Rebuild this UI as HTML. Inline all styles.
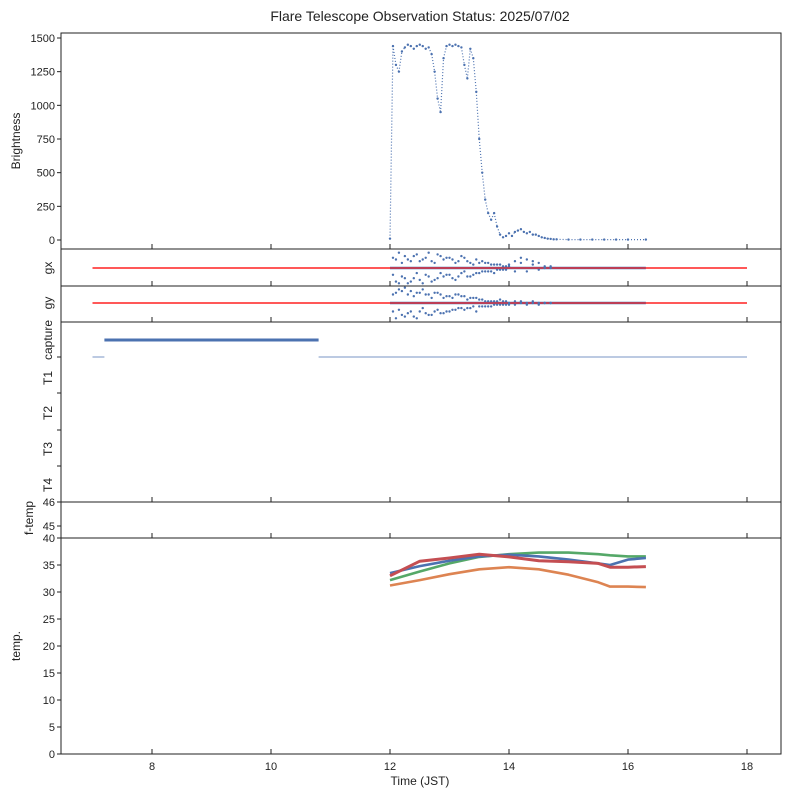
<!DOCTYPE html>
<html><head><meta charset="utf-8"><style>
body{margin:0;background:#fff;}
svg{display:block;font-family:"Liberation Sans",sans-serif;}
</style></head><body>
<svg id="c" width="789" height="798"></svg>
<script>
const bTimes=[12.00,12.05,12.10,12.15,12.20,12.25,12.30,12.35,12.40,12.45,12.50,12.55,12.60,12.65,12.70,12.75,12.80,12.85,12.90,12.95,13.00,13.05,13.10,13.15,13.20,13.25,13.30,13.35,13.40,13.45,13.50,13.55,13.60,13.65,13.70,13.75,13.80,13.85,13.90,13.95,14.00,14.05,14.10,14.15,14.20,14.25,14.30,14.35,14.40,14.45,14.50,14.55,14.60,14.65,14.70,14.75,14.80,15.0,15.2,15.4,15.6,15.8,16.0,16.3];
const bVals=[10,1440,1300,1250,1400,1430,1450,1440,1420,1440,1450,1440,1420,1430,1380,1250,1050,950,1350,1440,1450,1440,1450,1440,1430,1300,1200,1420,1350,1100,750,500,300,200,150,200,100,40,20,30,50,30,60,70,80,60,50,60,40,40,30,20,15,10,8,5,5,3,3,3,3,3,3,3];
const bTicks=[0,250,500,750,1000,1250,1500];
const gTimes=[12.05,12.1,12.15,12.2,12.25,12.3,12.35,12.4,12.45,12.5,12.55,12.6,12.65,12.7,12.75,12.8,12.85,12.9,12.95,13.0,13.05,13.1,13.15,13.2,13.25,13.3,13.35,13.4,13.45,13.5,13.55,13.6,13.65,13.7,13.75,13.8,13.85,13.9,13.95,14.0,14.1,14.2,14.3,14.4,14.5,14.6,14.7];
const gxA=[0.6,-0.8,0.9,-0.5,0.7,-0.9,0.4,-0.6,0.8,-0.7,0.5,-0.4,0.9,-0.8,0.3,-0.6,0.7,-0.5,0.6,-0.4,0.5,-0.7,0.4,-0.3,0.6,-0.5,0.3,-0.4,0.5,-0.3,0.4,-0.2,0.3,-0.2,0.2,-0.1,0.2,-0.1,0.1,0.1,0.4,0.6,0.5,0.4,0.3,0.1,0.1];
const gxB=[-0.4,0.5,-0.9,0.3,-0.6,0.5,-0.8,0.7,-0.3,0.4,-0.9,0.6,-0.5,0.4,-0.7,0.8,-0.3,0.5,-0.4,0.6,-0.6,0.3,-0.5,0.7,-0.2,0.4,-0.5,0.2,-0.3,0.3,-0.2,0.3,-0.2,0.2,-0.3,0.2,-0.1,0.1,-0.1,0.2,-0.2,0.3,-0.2,0.2,-0.1,0.0,0.0];
const gyA=[0.5,-0.9,0.8,-0.7,0.9,-0.6,0.7,-0.8,0.6,-0.5,0.8,-0.6,0.5,-0.7,0.6,-0.4,0.5,-0.6,0.4,-0.5,0.3,-0.4,0.5,-0.3,0.4,-0.3,0.3,-0.2,0.3,-0.2,0.2,-0.2,0.1,-0.2,0.1,-0.1,0.2,-0.1,0.1,0.0,0.1,0.1,0.0,0.1,-0.1,0.0,0.0];
const gyB=[-0.5,0.6,-0.4,0.7,-0.8,0.5,-0.5,0.4,-0.9,0.6,-0.3,0.5,-0.7,0.3,-0.5,0.6,-0.6,0.3,-0.5,0.4,-0.4,0.5,-0.3,0.4,-0.4,0.2,-0.3,0.3,-0.5,0.2,-0.2,0.1,-0.2,0.1,-0.1,0.1,-0.1,0.1,-0.1,-0.1,-0.1,0.0,-0.1,0.0,0.0,0.0,0.0];
const capOnStart=7.2, capOnEnd=10.8, capLineStart=7.0, capLineEnd=18.0;
const tTimes=[12.0,12.5,13.0,13.5,14.0,14.5,15.0,15.5,15.7,16.0,16.3];
const tBlue=[33.5,34.8,35.8,36.6,36.9,36.6,36.0,35.3,35.0,36.0,36.3];
const tOrange=[31.2,32.2,33.3,34.2,34.6,34.2,33.2,31.8,31.0,31.0,30.9];
const tGreen=[32.2,33.8,35.3,36.5,37.0,37.3,37.3,37.0,36.8,36.6,36.6];
const tRed=[33.0,35.7,36.3,37.0,36.5,35.8,35.6,35.3,34.6,34.6,34.7];
const tTicks=[0,5,10,15,20,25,30,35,40];
const xTicks=[8,10,12,14,16,18];

const NS="http://www.w3.org/2000/svg", svg=document.getElementById('c');
function el(tag,a,txt){const e=document.createElementNS(NS,tag);for(const k in a)e.setAttribute(k,a[k]);if(txt!==undefined)e.textContent=txt;svg.appendChild(e);return e;}
const L=61,R=781;
const X=t=>152+(t-8)*59.5;
const yB=v=>240-v*202/1500;
const yT=v=>754-v*5.4;
const panels=[[33,249,'brightness-panel'],[249,286,'gx-panel'],[286,322,'gy-panel'],[322,502,'capture-panel'],[502,538,'f-temp-panel'],[538,754,'temp-panel']];
let t=el('text',{x:420,y:21,'text-anchor':'middle','font-size':14,fill:'#222'},'Flare Telescope Observation Status: 2025/07/02');

panels.forEach(p=>{xTicks.forEach(v=>{let k=el('line',{x1:X(v),x2:X(v),y1:p[1],y2:p[1]-5,stroke:'#222','stroke-width':1});});});
xTicks.forEach(v=>{let k=el('text',{x:X(v),y:770,'text-anchor':'middle','font-size':11,fill:'#222'},String(v));});
t=el('text',{x:420,y:785,'text-anchor':'middle','font-size':12,fill:'#222'},'Time (JST)');
// brightness
bTicks.forEach(v=>{el('line',{x1:L,x2:L-4,y1:yB(v),y2:yB(v),stroke:'#222'});let k=el('text',{x:L-6,y:yB(v)+4,'text-anchor':'end','font-size':11,fill:'#222'},String(v));});
for(let i=0;i<bTimes.length;i++){
  let c=el('circle',{cx:X(bTimes[i]),cy:yB(bVals[i]),r:1.2,fill:'#4c72b0'});
  if(i<bTimes.length-1){let l=el('line',{x1:X(bTimes[i]),y1:yB(bVals[i]),x2:X(bTimes[i+1]),y2:yB(bVals[i+1]),stroke:'#4c72b0','stroke-width':1.2,'stroke-dasharray':'1 2'});}
}
t=el('text',{transform:'translate(20,141) rotate(-90)','text-anchor':'middle','font-size':12,fill:'#222'},'Brightness');
function gpanel(cy,A,B,name){
  let l=el('line',{x1:X(7),x2:X(18),y1:cy,y2:cy,stroke:'#ff2020','stroke-width':1.6});
  let b=el('line',{x1:X(12),x2:X(16.3),y1:cy,y2:cy,stroke:'#4c72b0','stroke-width':2.5});
  el('line',{x1:X(12),x2:X(16.3),y1:cy,y2:cy,stroke:'#ff2020','stroke-width':1.2});
  [A,B].forEach(S=>{for(let i=0;i<gTimes.length;i++){let c=el('circle',{cx:X(gTimes[i]),cy:cy-S[i]*17,r:1.2,fill:'#4c72b0'});}});
  t=el('text',{transform:`translate(52,${cy}) rotate(-90)`,'text-anchor':'middle','font-size':12,fill:'#222'},name);
}
gpanel(268,gxA,gxB,'gx');gpanel(303,gyA,gyB,'gy');
[['capture',340],['T1',378],['T2',413],['T3',449],['T4',485]].forEach(p=>{t=el('text',{transform:`translate(52,${p[1]}) rotate(-90)`,'text-anchor':'middle','font-size':12,fill:'#222'},p[0]);});
[357,393,430,466].forEach(y=>el('line',{x1:L,x2:L-4,y1:y,y2:y,stroke:'#222'}));
t=el('line',{x1:X(capLineStart),x2:X(capLineEnd),y1:357,y2:357,stroke:'#4c72b0','stroke-width':0.8});
t=el('line',{x1:X(capOnStart),x2:X(capOnEnd),y1:340,y2:340,stroke:'#4c72b0','stroke-width':3});
el('line',{x1:X(capOnStart),x2:X(capOnEnd),y1:357,y2:357,stroke:'#fff','stroke-width':1.2});
[[46,502],[45,526],[40,538]].forEach(p=>{el('line',{x1:L,x2:L-4,y1:p[1],y2:p[1],stroke:'#222'});t=el('text',{x:L-6,y:p[1]+4,'text-anchor':'end','font-size':11,fill:'#222'},String(p[0]));});
t=el('text',{transform:'translate(33,518) rotate(-90)','text-anchor':'middle','font-size':12,fill:'#222'},'f-temp');
tTicks.forEach(v=>{if(v===40)return;el('line',{x1:L,x2:L-4,y1:yT(v),y2:yT(v),stroke:'#222'});t=el('text',{x:L-6,y:yT(v)+4,'text-anchor':'end','font-size':11,fill:'#222'},String(v));});
t=el('text',{transform:'translate(20,646) rotate(-90)','text-anchor':'middle','font-size':12,fill:'#222'},'temp.');
[[tOrange,'#dd8452','orange'],[tGreen,'#55a868','green'],[tBlue,'#4c72b0','blue'],[tRed,'#c44e52','red']].forEach(s=>{
  let d=tTimes.map((v,i)=>(i?'L':'M')+X(v).toFixed(1)+' '+yT(s[0][i]).toFixed(1)).join(' ');
  let p=el('path',{d:d,fill:'none',stroke:s[1],'stroke-width':s[2]==='red'?3:2.6,'stroke-linejoin':'round'});
});
panels.forEach(p=>{let r=el('rect',{x:L,y:p[0],width:R-L,height:p[1]-p[0],fill:'none',stroke:'#222','stroke-width':1});});
</script>
</body></html>
